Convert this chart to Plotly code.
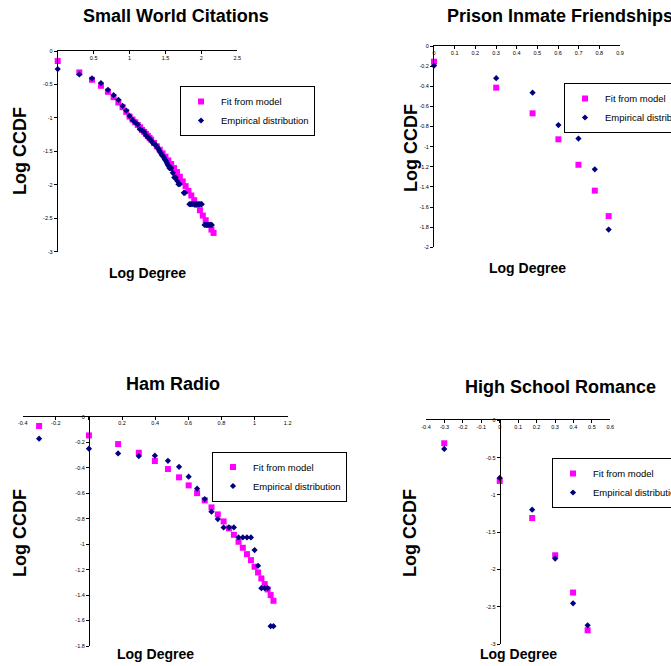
import plotly.graph_objects as go

W, H = 671, 666
FONT = "Liberation Sans, Arial, sans-serif"
PINK = "#FF00FF"
NAVY = "#000080"

# ---------------- data ----------------
sw_fit_x = [0, 0.301, 0.477, 0.602, 0.699, 0.778, 0.845, 0.903, 0.954, 1.0, 1.041, 1.079, 1.114,
            1.146, 1.176, 1.204, 1.23, 1.255, 1.279, 1.301, 1.34, 1.38, 1.42, 1.46, 1.50, 1.54,
            1.58, 1.62, 1.66, 1.70, 1.74, 1.78, 1.82, 1.86, 1.90, 1.94, 1.98, 2.02, 2.06, 2.10,
            2.14, 2.17]
sw_fit_y = [-0.15, -0.32, -0.43, -0.52, -0.61, -0.69, -0.77, -0.84, -0.91, -0.98, -1.025, -1.065,
            -1.105, -1.14, -1.18, -1.21, -1.24, -1.27, -1.30, -1.325, -1.375, -1.425, -1.475,
            -1.53, -1.58, -1.635, -1.69, -1.75, -1.81, -1.88, -1.95, -2.02, -2.09, -2.16, -2.23,
            -2.30, -2.38, -2.46, -2.53, -2.60, -2.67, -2.72]
sw_emp_x = [0, 0.301, 0.477, 0.602, 0.699, 0.778, 0.845, 0.903, 0.954, 1.0, 1.041, 1.079, 1.114,
            1.146, 1.176, 1.204, 1.23, 1.255, 1.279, 1.301, 1.322, 1.342, 1.362, 1.380, 1.398,
            1.415, 1.431, 1.447, 1.462, 1.477, 1.491, 1.505, 1.519, 1.531, 1.544, 1.556, 1.568,
            1.580, 1.602, 1.623, 1.643, 1.663, 1.681, 1.699, 1.756, 1.771, 1.833, 1.851, 1.869,
            1.887, 1.905, 1.923, 1.941, 1.959, 1.977, 1.995, 2.005, 2.045, 2.065, 2.085, 2.105,
            2.125, 2.145]
sw_emp_y = [-0.27, -0.35, -0.41, -0.48, -0.58, -0.66, -0.73, -0.82, -0.89, -0.97, -1.03, -1.07,
            -1.10, -1.17, -1.19, -1.21, -1.26, -1.29, -1.31, -1.34, -1.37, -1.39, -1.40, -1.43,
            -1.46, -1.49, -1.52, -1.55, -1.57, -1.59, -1.62, -1.64, -1.67, -1.70, -1.72, -1.75,
            -1.75, -1.75, -1.82, -1.89, -1.89, -1.94, -1.99, -1.99, -2.12, -2.12, -2.29, -2.29,
            -2.29, -2.29, -2.29, -2.29, -2.29, -2.29, -2.29, -2.29, -2.29, -2.60, -2.60, -2.60,
            -2.60, -2.60, -2.60]

pr_x = [0, 0.301, 0.477, 0.602, 0.699, 0.778, 0.845]
pr_fit = [-0.156, -0.414, -0.669, -0.927, -1.18, -1.437, -1.69]
pr_emp = [-0.195, -0.32, -0.464, -0.785, -0.92, -1.225, -1.824]

hr_x = [-0.301, 0, 0.176, 0.301, 0.398, 0.477, 0.544, 0.602, 0.653, 0.699, 0.740, 0.778, 0.813,
        0.845, 0.875, 0.903, 0.929, 0.954, 0.978, 1.0, 1.021, 1.041, 1.061, 1.079, 1.097, 1.114]
hr_fit = [-0.073, -0.147, -0.215, -0.283, -0.348, -0.411, -0.476, -0.539, -0.60, -0.657, -0.712,
          -0.767, -0.822, -0.877, -0.927, -0.982, -1.029, -1.079, -1.126, -1.178, -1.223, -1.27,
          -1.314, -1.356, -1.40, -1.445]
hr_emp = [-0.173, -0.251, -0.288, -0.309, -0.306, -0.346, -0.393, -0.471, -0.565, -0.647, -0.746,
          -0.804, -0.869, -0.869, -0.869, -0.948, -0.948, -0.948, -0.948, -1.047, -1.17, -1.346,
          -1.346, -1.346, -1.644, -1.644]

hs_x = [-0.301, 0, 0.176, 0.301, 0.398, 0.477]
hs_fit = [-0.308, -0.813, -1.31, -1.81, -2.31, -2.816]
hs_emp = [-0.384, -0.773, -1.198, -1.855, -2.454, -2.749]

titles = ["Small World Citations", "Prison Inmate Friendships", "Ham Radio", "High School Romance"]
series_names = ["Fit from model", "Empirical distribution"]

sw_xticks = [0.5, 1, 1.5, 2, 2.5]
sw_xtext = ["0.5", "1", "1.5", "2", "2.5"]
sw_yticks = [0, -0.5, -1, -1.5, -2, -2.5, -3]
sw_ytext = ["0", "-0.5", "-1", "-1.5", "-2", "-2.5", "-3"]
pr_xticks = [0, 0.1, 0.2, 0.3, 0.4, 0.5, 0.6, 0.7, 0.8, 0.9]
pr_xtext = ["0", "0.1", "0.2", "0.3", "0.4", "0.5", "0.6", "0.7", "0.8", "0.9"]
pr_yticks = [0, -0.2, -0.4, -0.6, -0.8, -1, -1.2, -1.4, -1.6, -1.8, -2]
pr_ytext = ["0", "-0.2", "-0.4", "-0.6", "-0.8", "-1", "-1.2", "-1.4", "-1.6", "-1.8", "-2"]
hr_xticks = [-0.4, -0.2, 0, 0.2, 0.4, 0.6, 0.8, 1, 1.2]
hr_xtext = ["-0.4", "-0.2", "", "0.2", "0.4", "0.6", "0.8", "1", "1.2"]
hr_yticks = [0, -0.2, -0.4, -0.6, -0.8, -1, -1.2, -1.4, -1.6, -1.8]
hr_ytext = ["0", "-0.2", "-0.4", "-0.6", "-0.8", "-1", "-1.2", "-1.4", "-1.6", "-1.8"]
hs_xticks = [-0.4, -0.3, -0.2, -0.1, 0, 0.1, 0.2, 0.3, 0.4, 0.5, 0.6]
hs_xtext = ["-0.4", "-0.3", "-0.2", "-0.1", "0", "0.1", "0.2", "0.3", "0.4", "0.5", "0.6"]
hs_yticks = [0, -0.5, -1, -1.5, -2, -2.5, -3]
hs_ytext = ["0", "-0.5", "-1", "-1.5", "-2", "-2.5", "-3"]

# ---------------- layout geometry (pixels) ----------------
panels = [
    dict(px=(57.7, 237.3), py=(51, 251.7), xr=[0, 2.5], yr=[-3, 0],
         fx=sw_fit_x, fy=sw_fit_y, ex=sw_emp_x, ey=sw_emp_y,
         xt=(sw_xticks, sw_xtext), yt=(sw_yticks, sw_ytext),
         leg=(180, 86), title=(176, 16, "center"), ylab=(20, 151), xlab=(147.5, 273)),
    dict(px=(434, 620), py=(46, 247.3), xr=[0, 0.9], yr=[-2, 0],
         fx=pr_x, fy=pr_fit, ex=pr_x, ey=pr_emp,
         xt=(pr_xticks, pr_xtext), yt=(pr_yticks, pr_ytext),
         leg=(564, 83), title=(445, 16, "left"), ylab=(411, 148), xlab=(527, 268)),
    dict(px=(22.7, 287.7), py=(416.7, 646), xr=[-0.4, 1.2], yr=[-1.8, 0],
         fx=hr_x, fy=hr_fit, ex=hr_x, ey=hr_emp,
         xt=(hr_xticks, hr_xtext), yt=(hr_yticks, hr_ytext),
         leg=(212, 451.5), title=(173, 384, "center"), ylab=(20, 533), xlab=(155.5, 654)),
    dict(px=(426, 610.3), py=(420.3, 644), xr=[-0.4, 0.6], yr=[-3, 0],
         fx=hs_x, fy=hs_fit, ex=hs_x, ey=hs_emp,
         xt=(hs_xticks, hs_xtext), yt=(hs_yticks, hs_ytext),
         leg=(552, 458), title=(463, 387, "left"), ylab=(410, 533), xlab=(518, 654)),
]

fig = go.Figure()
annotations = []
layout = dict(width=W, height=H, autosize=False,
              margin=dict(l=0, r=0, t=0, b=0, autoexpand=False),
              paper_bgcolor="white", plot_bgcolor="white", showlegend=True)

for i, p in enumerate(panels, start=1):
    sfx = "" if i == 1 else str(i)
    legname = "legend" + sfx
    fig.add_trace(go.Scatter(x=p["fx"], y=p["fy"], mode="markers", name=series_names[0],
                             marker=dict(symbol="square", size=6, color=PINK),
                             xaxis="x" + sfx, yaxis="y" + sfx, legend=legname, cliponaxis=False))
    fig.add_trace(go.Scatter(x=p["ex"], y=p["ey"], mode="markers", name=series_names[1],
                             marker=dict(symbol="diamond", size=4.8, color=NAVY),
                             xaxis="x" + sfx, yaxis="y" + sfx, legend=legname, cliponaxis=False))
    xd = [p["px"][0] / W, p["px"][1] / W]
    yd = [1 - p["py"][1] / H, 1 - p["py"][0] / H]
    xr, yr = p["xr"], p["yr"]
    zero_frac = xd[0] + (0 - xr[0]) / (xr[1] - xr[0]) * (xd[1] - xd[0])
    layout["xaxis" + sfx] = dict(domain=xd, range=xr, side="top", anchor="y" + sfx,
                                 showline=True, linecolor="black", linewidth=1,
                                 ticks="inside", ticklen=3, tickcolor="black",
                                 tickvals=p["xt"][0], ticktext=p["xt"][1],
                                 ticklabelposition="inside", ticklabeloverflow="allow",
                                 tickfont=dict(family=FONT, size=5.5, color="black"),
                                 showgrid=False, zeroline=False, fixedrange=True,
                                 automargin=False)
    ydict = dict(domain=yd, range=yr, showline=True, linecolor="black", linewidth=1,
                 ticks="outside", ticklen=3, tickcolor="black",
                 tickvals=p["yt"][0], ticktext=p["yt"][1],
                 tickfont=dict(family=FONT, size=5.5, color="black"),
                 showgrid=False, zeroline=False, fixedrange=True, automargin=False)
    if xr[0] < 0:
        ydict.update(anchor="free", position=zero_frac)
    else:
        ydict.update(anchor="x" + sfx)
    layout["yaxis" + sfx] = ydict
    layout[legname] = dict(x=p["leg"][0] / W, y=1 - p["leg"][1] / H, xanchor="left", yanchor="top",
                           bgcolor="white", bordercolor="black", borderwidth=1,
                           font=dict(family=FONT, size=9.5, color="black"),
                           itemwidth=30, tracegroupgap=0)
    tx, ty, ta = p["title"]
    annotations.append(dict(text="<b>" + titles[i - 1] + "</b>", x=tx / W, y=1 - ty / H,
                            xref="paper", yref="paper", xanchor=ta, yanchor="middle",
                            showarrow=False, font=dict(family=FONT, size=18, color="black")))
    annotations.append(dict(text="<b>Log CCDF</b>", x=p["ylab"][0] / W, y=1 - p["ylab"][1] / H,
                            xref="paper", yref="paper", xanchor="center", yanchor="middle",
                            textangle=-90, showarrow=False,
                            font=dict(family=FONT, size=18, color="black")))
    annotations.append(dict(text="<b>Log Degree</b>", x=p["xlab"][0] / W, y=1 - p["xlab"][1] / H,
                            xref="paper", yref="paper", xanchor="center", yanchor="middle",
                            showarrow=False, font=dict(family=FONT, size=14, color="black")))

layout["annotations"] = annotations
fig.update_layout(**layout)
fig.write_html("out.html", config={"displayModeBar": False},
               post_script="document.body.style.margin='0px';")
